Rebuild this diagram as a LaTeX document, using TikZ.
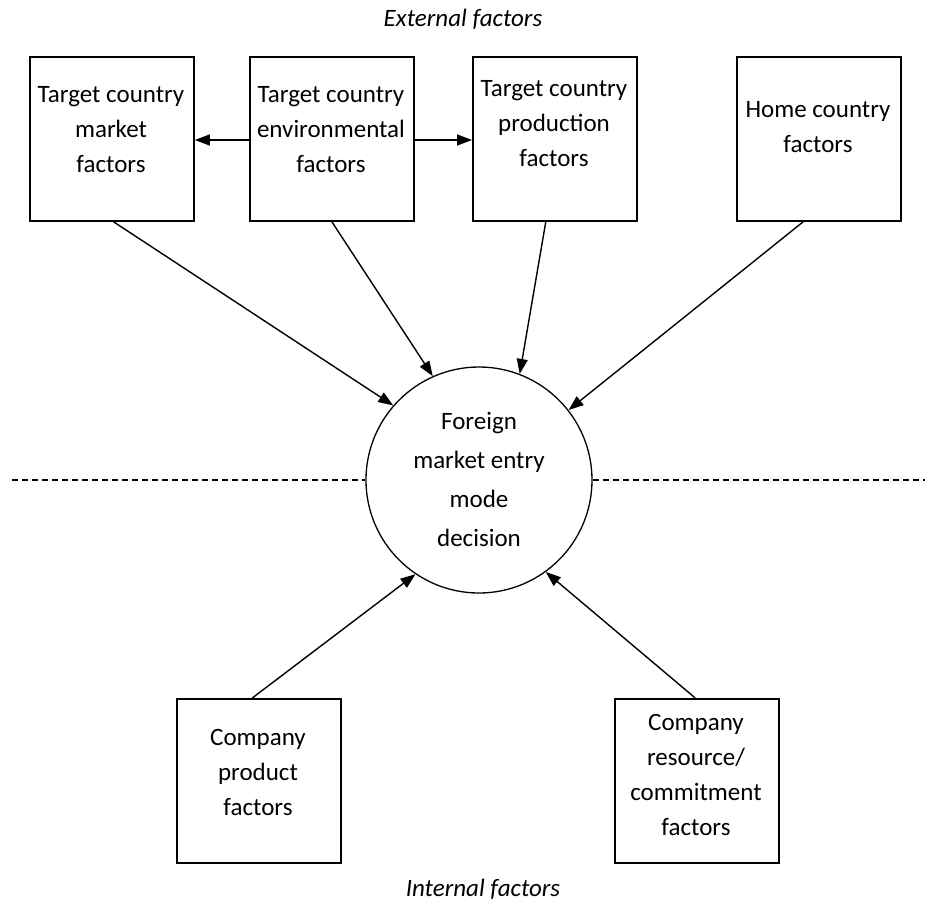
\documentclass[tikz,border=0pt]{standalone}
\usepackage{fontspec}
\setmainfont{Carlito}
\usetikzlibrary{arrows.meta,calc}
\newcommand{\lines}[1]{\begin{tabular}[t]{@{}c@{}}#1\end{tabular}}
\begin{document}
\begin{tikzpicture}[x=1pt,y=-1pt,
  box/.style={draw,line width=1.8pt,minimum width=164pt,minimum height=164pt,inner sep=0pt,anchor=north west},
  txt/.style={anchor=base,inner sep=0pt,font=\fontsize{25}{35}\selectfont},
  lab/.style={anchor=base,inner sep=0pt,font=\fontsize{25}{35}\selectfont\itshape},
  arr/.style={line width=1.4pt,-{Triangle[length=15pt,width=11pt]}}]
\useasboundingbox (0,0) rectangle (935,903);
% boxes
\node[box] (b1) at (29,56) {};
\node[box] (b2) at (249,56) {};
\node[box] (b3) at (472,56) {};
\node[box] (b4) at (736,56) {};
\node[box] (b5) at (176,698) {};
\node[box] (b6) at (614,698) {};
\node[draw,circle,line width=1.3pt,minimum size=226pt,inner sep=0pt] (c) at (479,480) {};
% texts
\node[txt] (t1) at (111,102) {\lines{Target country\\market\\factors}};
\node[txt] (t2) at (331,102) {\lines{Target country\\environmental\\factors}};
\node[txt] (t3) at (554,96) {\lines{Target country\\production\\factors}};
\node[txt] (t4) at (818,117) {\lines{Home country\\factors}};
\node[txt,font=\fontsize{25}{39.3}\selectfont] (tc) at (479,429) {\lines{Foreign\\market entry\\mode\\decision}};
\node[txt] (t5) at (258,745) {\lines{Company\\product\\factors}};
\node[txt] (t6) at (696,730) {\lines{Company\\resource/\\commitment\\factors}};
\node[lab] (ext) at (463,26) {External factors};
\node[lab] (int) at (483,896) {Internal factors};
% dashed divider
\coordinate (dl) at (12,480);
\coordinate (dr) at (925,480);
\draw[line width=1.3pt,dash pattern=on 6pt off 4pt] (dl) -- (c.west);
\draw[line width=1.3pt,dash pattern=on 6pt off 4pt] (c.east) -- (dr);
% arrows
\draw[arr] (b2.west |- 0,140) -- (b1.east |- 0,140);
\draw[arr] (b2.east |- 0,140) -- (b3.west |- 0,140);
\draw[arr] ($(b1.south west)!0.51!(b1.south east)$) -- (c.139.7);
\draw[arr] ($(b2.south west)!0.5!(b2.south east)$) -- (c.114.3);
\draw[arr] ($(b3.south west)!0.445!(b3.south east)$) -- (c.69);
\draw[arr] ($(b4.south west)!0.405!(b4.south east)$) -- (c.38.5);
\draw[arr] ($(b5.north west)!0.46!(b5.north east)$) -- (c.-124.8);
\draw[arr] ($(b6.north west)!0.49!(b6.north east)$) -- (c.-54.2);
\end{tikzpicture}
\end{document}
